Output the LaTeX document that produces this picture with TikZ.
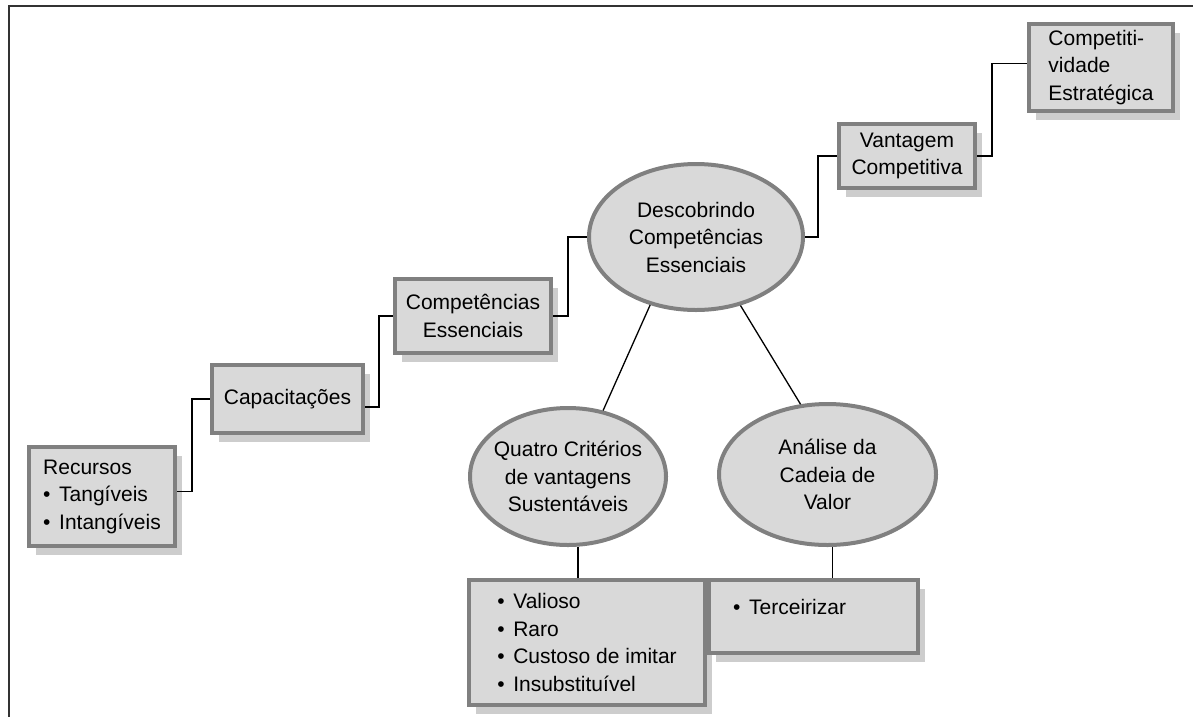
\documentclass[tikz,border=0pt]{standalone}
\usepackage{fontspec}
\setmainfont{Liberation Sans}
\usetikzlibrary{shapes.geometric,shadows}
\definecolor{bfill}{HTML}{D9D9D9}
\definecolor{bline}{HTML}{808080}
\definecolor{bshadow}{HTML}{CDCDCD}
\newcommand{\blt}{\makebox[16pt][l]{\textbullet}}
\begin{document}
\begin{tikzpicture}[x=1pt,y=-1pt,
  txt/.style={font=\fontsize{21}{27.5}\selectfont, inner sep=0pt, text=black},
  sqbox/.style={txt, draw=bline, line width=4pt, fill=bfill, rectangle,
    drop shadow={shadow xshift=7pt, shadow yshift=-9pt, fill=bshadow, opacity=1}},
  ovalbox/.style={txt, draw=bline, line width=4pt, fill=bfill, ellipse, align=center, inner xsep=-14pt},
  conn/.style={draw=black, line width=1.3pt}]
\useasboundingbox (0,0) rectangle (1193,716);
\draw[black!80, line width=2pt] (9,717) -- (9,6) -- (1194,6);

\node[sqbox, minimum width=146pt, minimum height=99pt, align=left] (rec) at (102,496.5) {Recursos\\\blt Tangíveis\\\blt Intangíveis};
\node[sqbox, minimum width=151pt, minimum height=68pt] (cap) at (287.5,399) {Capacitações};
\node[sqbox, minimum width=156pt, minimum height=74pt, align=center] (comp) at (473,316) {Competências\\Essenciais};
\node[ovalbox, minimum width=214pt, minimum height=146pt] (desc) at (696,237) {Descobrindo\\Competências\\Essenciais};
\node[sqbox, minimum width=136pt, minimum height=64pt, align=center] (van) at (907,156) {Vantagem\\Competitiva};
\node[sqbox, minimum width=144pt, minimum height=87pt, align=left] (cpt) at (1101,67.5) {Competiti-\\vidade\\Estratégica};
\node[ovalbox, minimum width=196pt, minimum height=137pt] (quat) at (568,476.5) {Quatro Critérios\\de vantagens\\Sustentáveis};
\node[ovalbox, minimum width=217pt, minimum height=141pt] (anal) at (827.5,474.5) {Análise da\\Cadeia de\\Valor};
\node[sqbox, minimum width=236pt, minimum height=125pt, align=left] (val) at (587,642.5) {\blt Valioso\\\blt Raro\\\blt Custoso de imitar\\\blt Insubstituível};
\node[sqbox, minimum width=209pt, minimum height=73pt] (ter) at (813.5,616.5) {};
\node[txt, anchor=west] (terT) at (733,607) {\blt Terceirizar};

\draw[conn] ([yshift=5pt]rec.east) -- ++(15,0) |- (cap.west);
\draw[conn] ([yshift=-8pt]cap.east) -- ++(14,0) |- (comp.west);
\draw[conn] (comp.east) -- ++(15,0) |- (desc.west);
\draw[conn] (desc.east) -- ++(13,0) |- (van.west);
\draw[conn] (van.east) -- ++(15,0) |- ([yshift=4pt]cpt.west);
\draw[conn] (desc.236) -- (quat.62);
\draw[conn] (desc.303) -- (anal.111);
\draw[conn] ([xshift=10pt]quat.south) -- ([xshift=10pt]quat.south |- val.north);
\draw[conn] ([xshift=5pt]anal.south) -- ([xshift=5pt]anal.south |- ter.north);
\end{tikzpicture}
\end{document}
